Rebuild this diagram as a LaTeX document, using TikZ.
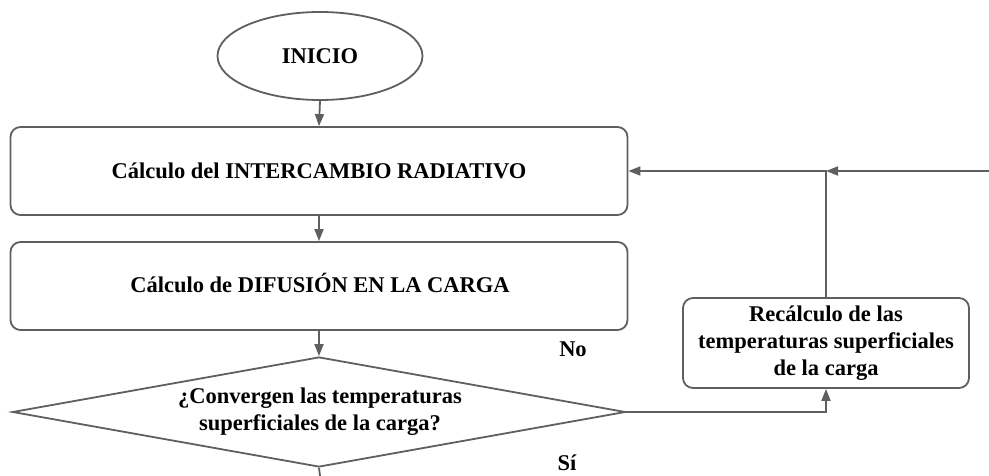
\documentclass[tikz,border=0pt]{standalone}
\usepackage{fontspec}
\setmainfont{Liberation Serif}
\usetikzlibrary{shapes.geometric,arrows.meta}
\definecolor{lin}{HTML}{5F5F5F}
\tikzset{
  every node/.style={font=\bfseries\fontsize{22.5}{27}\selectfont, text=black},
  conn/.style={draw=lin, line width=1.8pt},
  arr/.style={conn, -{Triangle[length=12pt,width=9pt]}},
  procbox/.style={draw=lin, line width=1.8pt, rounded corners=10pt, minimum width=617pt, minimum height=88pt, inner sep=0pt},
  startnode/.style={draw=lin, line width=1.8pt, ellipse, minimum width=205pt, minimum height=88pt, inner sep=0pt},
  decnode/.style={draw=lin, line width=1.8pt, diamond, minimum width=613pt, minimum height=110pt, inner sep=0pt, align=center},
  recbox/.style={draw=lin, line width=1.8pt, rounded corners=10pt, minimum width=286pt, minimum height=90pt, inner sep=0pt, align=center},
  lbl/.style={inner sep=0pt}
}
\begin{document}
\begin{tikzpicture}[x=1pt,y=-1pt]
\useasboundingbox (0,0) rectangle (989,476);
\node[startnode] (ini) at (320,56) {INICIO};
\node[procbox] (b1) at (319,171) {Cálculo del INTERCAMBIO RADIATIVO};
\node[procbox] (b2) at (319,286) {};
\node[lbl] (b2t) at (320,283) {Cálculo de DIFUSIÓN EN LA CARGA};
\node[decnode] (dec) at (319,412) {};
\node[lbl, align=center] (dect) at (320,412) {¿Convergen las temperaturas\\superficiales de la carga?};
\node[recbox] (rec) at (826,343) {Recálculo de las\\temperaturas superficiales\\de la carga};
\node[lbl] (no) at (573,349) {No};
\node[lbl] (si) at (567,463) {Sí};
\coordinate (jn) at (826,171);
\coordinate (rin) at (989,171);
\coordinate (bot) at (320,476);
\draw[arr] (ini.south) -- (b1.north);
\draw[arr] (b1.south) -- (b2.north);
\draw[arr] (b2.south) -- (dec.north);
\draw[conn] (dec.south) -- (bot);
\draw[arr] (dec.east) -| (rec.south);
\draw[arr] (rec.north) -- (jn) -- (b1.east);
\draw[arr] (rin) -- (jn);
\end{tikzpicture}
\end{document}
